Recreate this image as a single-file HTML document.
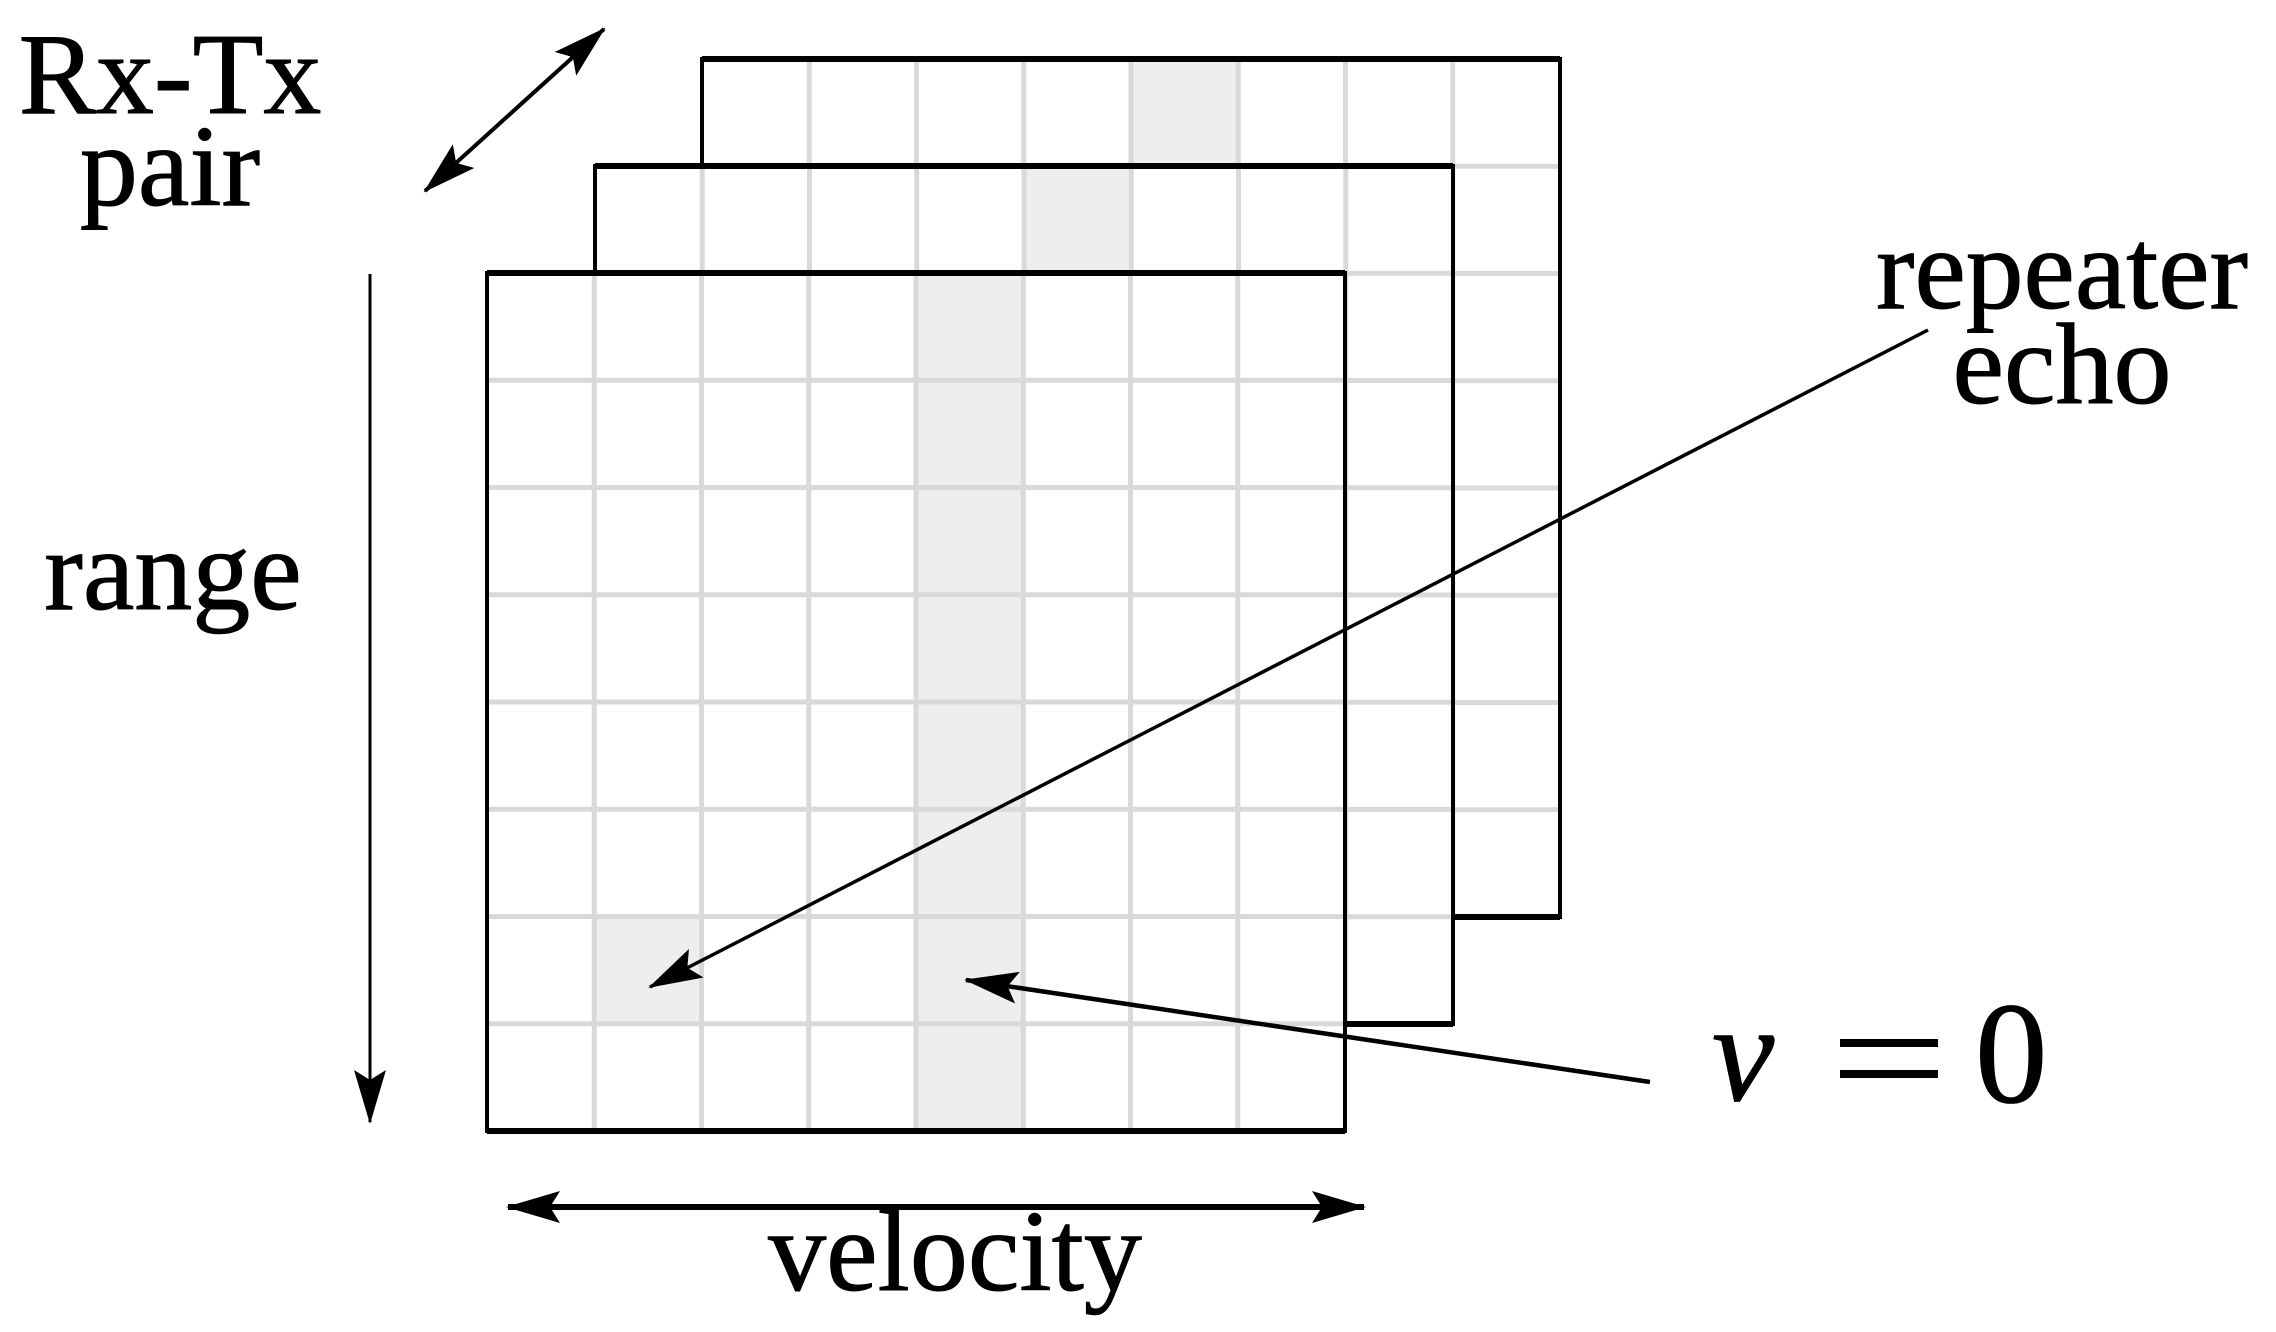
<!DOCTYPE html>
<html><head><meta charset="utf-8"><style>html,body{margin:0;padding:0;background:#fff}svg{display:block}</style></head>
<body>
<svg width="2276" height="1332" viewBox="0 0 2276 1332" xmlns="http://www.w3.org/2000/svg">
<defs>
<marker id="ah" markerWidth="60" markerHeight="40" refX="52" refY="20" orient="auto-start-reverse" markerUnits="userSpaceOnUse">
<path d="M0,4 L54,20 L0,36 L10,20 Z" fill="#000"/>
</marker>
</defs>
<g id="grids"></g>
<line x1="425" y1="191" x2="604" y2="29" stroke="#000" stroke-width="4" marker-start="url(#ah)" marker-end="url(#ah)"/>
<line x1="370" y1="274" x2="370" y2="1122" stroke="#000" stroke-width="3" marker-end="url(#ah)"/>
<line x1="508" y1="1207" x2="1364" y2="1207" stroke="#000" stroke-width="6" marker-start="url(#ah)" marker-end="url(#ah)"/>
<line x1="1928" y1="330" x2="650" y2="987" stroke="#000" stroke-width="3.5" marker-end="url(#ah)"/>
<line x1="1650" y1="1082" x2="966" y2="980" stroke="#000" stroke-width="4.5" marker-end="url(#ah)"/>
<g font-family="Liberation Serif, serif" font-size="116" fill="#000" stroke="#000" stroke-width="1">
<text x="170" y="113" text-anchor="middle">Rx-Tx</text>
<text x="170" y="205" text-anchor="middle">pair</text>
<text x="173" y="609" text-anchor="middle">range</text>
<text x="2062" y="308" text-anchor="middle" textLength="372" lengthAdjust="spacingAndGlyphs">repeater</text>
<text x="2062" y="403" text-anchor="middle">echo</text>
<text x="955" y="1290" text-anchor="middle">velocity</text>
<text x="1712" y="1100" font-size="140" font-style="italic">v</text>
<text x="1975" y="1102" font-size="145">0</text>
</g>
<rect x="1840" y="1039" width="98" height="8" fill="#000"/>
<rect x="1840" y="1070" width="98" height="8" fill="#000"/>
<script>
(function(){
var g=document.getElementById('grids'),ns='http://www.w3.org/2000/svg';
function el(t,a){var e=document.createElementNS(ns,t);for(var k in a)e.setAttribute(k,a[k]);g.appendChild(e);return e;}
var W=858,c=W/8;
function grid(x,y,extra){
el('rect',{x:x,y:y,width:W,height:W,fill:'#fff'});
el('rect',{x:x+4*c,y:y,width:c,height:W,fill:'#eeeeee'});
if(extra)el('rect',{x:x+c,y:y+6*c,width:c,height:c,fill:'#eeeeee'});
for(var i=1;i<8;i++){
el('line',{x1:x+i*c,y1:y,x2:x+i*c,y2:y+W,stroke:'#d9d9d9','stroke-width':5});
el('line',{x1:x,y1:y+i*c,x2:x+W,y2:y+i*c,stroke:'#d9d9d9','stroke-width':5});
}
el('rect',{x:x,y:y,width:W,height:W,fill:'none',stroke:'#000','stroke-width':4});
el('line',{x1:x,y1:y,x2:x+W,y2:y,stroke:'#000','stroke-width':6});
el('line',{x1:x,y1:y+W,x2:x+W,y2:y+W,stroke:'#000','stroke-width':6});
}
grid(702,59,false);
grid(595,166,false);
grid(487,273,true);
})();
</script>
</svg>
</body></html>
